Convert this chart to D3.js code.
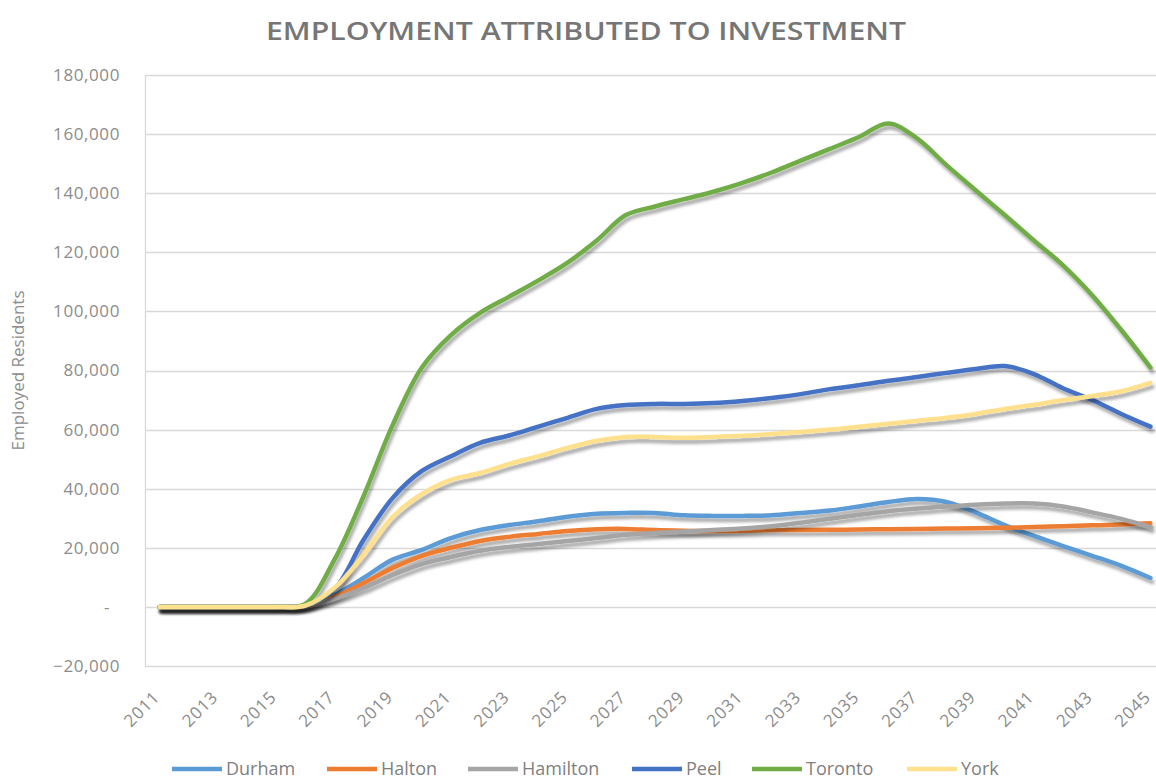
<!DOCTYPE html>
<meta charset="utf-8">
<style>
  body { margin: 0; background: #fff; }
  text { font-family: "Open Sans", sans-serif; }
</style>
<script src="https://d3js.org/d3.v7.min.js"></script>
<div id="chart"></div>
<script>
  // years on the category axis
  var years = d3.range(2011, 2046)
  var yTicks = [-20000, 0, 20000, 40000, 60000, 80000, 100000, 120000, 140000, 160000, 180000]

  // values, 2011 .. 2045
  var durham = [0, 0, 0, 0, 0, 300, 4000, 9800, 16000, 19300, 23300, 26000, 27700, 29000, 30500, 31500, 31800, 31800, 31000, 30800, 30800, 31000, 31800, 32600, 34000, 35500, 36500, 35500, 32000, 27700, 24000, 20600, 17300, 13900, 9800]
  var halton = [0, 0, 0, 0, 0, 200, 3400, 8100, 13200, 17300, 20000, 22300, 23700, 24700, 25700, 26300, 26400, 26000, 25800, 25700, 25800, 26000, 26000, 26100, 26200, 26300, 26400, 26500, 26600, 26800, 27000, 27300, 27600, 27900, 28300]
  var hamilton = [0, 0, 0, 0, 0, 200, 2700, 6400, 10800, 14500, 16900, 19000, 20300, 21300, 22300, 23300, 24400, 25000, 25500, 26000, 26500, 27300, 28500, 29800, 31200, 32400, 33300, 34000, 34600, 35000, 35000, 34000, 32000, 29800, 27000]
  var peel = [0, 0, 0, 0, 0, 500, 6000, 22700, 36900, 46000, 51000, 55500, 58000, 61000, 64000, 67000, 68300, 68700, 68700, 69000, 69700, 70700, 72000, 73700, 75000, 76500, 77800, 79200, 80500, 81500, 78800, 74000, 70000, 65300, 61000]
  var toronto = [0, 0, 0, 0, 0, 1000, 16000, 37500, 61600, 81000, 92000, 99500, 105000, 110500, 116500, 124000, 132600, 135500, 138000, 140500, 143500, 147000, 151000, 155000, 159000, 163600, 158500, 149500, 141000, 132600, 124000, 115600, 105500, 93700, 81000]
  var york = [0, 0, 0, 0, 0, 400, 6400, 17600, 30500, 38200, 43000, 45300, 48400, 51000, 53800, 56200, 57500, 57500, 57200, 57500, 57900, 58500, 59200, 60000, 61000, 62000, 63000, 64000, 65300, 67000, 68400, 70000, 71400, 73000, 75800]

  var seriesNames = ["Durham", "Halton", "Hamilton", "Peel", "Toronto", "York"]
  var seriesValues = [durham, halton, hamilton, peel, toronto, york]
  var seriesColors = ["#5B9BD5", "#ED7D31", "#A5A5A5", "#4472C4", "#70AD47", "#FFE08C"]

  var W = 1156, H = 779
  var plotLeft = 145, plotRight = 1165, plotTop = 75, plotBottom = 666

  var svg = d3.select("#chart").append("svg")
    .attr("width", W)
    .attr("height", H)

  // soft shadow like the office chart effect
  var filter = svg.append("defs").append("filter")
    .attr("id", "shadow")
    .attr("x", "-5%").attr("y", "-20%")
    .attr("width", "110%").attr("height", "140%")
  filter.append("feDropShadow")
    .attr("dx", 2).attr("dy", 4)
    .attr("stdDeviation", 1.8)
    .attr("flood-color", "#000")
    .attr("flood-opacity", 0.32)

  var x = d3.scalePoint()
    .domain(years)
    .range([plotLeft, plotRight])
    .padding(0.5)

  var y = d3.scaleLinear()
    .domain([-20000, 180000])
    .range([plotBottom, plotTop])

  // gridlines
  svg.append("g")
    .selectAll("line")
    .data(yTicks)
    .enter()
    .append("line")
    .attr("x1", plotLeft)
    .attr("x2", W)
    .attr("y1", function (d) { return Math.round(y(d)) + 0.5 })
    .attr("y2", function (d) { return Math.round(y(d)) + 0.5 })
    .attr("stroke", "#d9d9d9")
    .attr("stroke-width", 1.3)

  svg.append("line")
    .attr("x1", plotLeft + 0.5).attr("x2", plotLeft + 0.5)
    .attr("y1", plotTop).attr("y2", plotBottom)
    .attr("stroke", "#d9d9d9")
    .attr("stroke-width", 1.3)

  // y axis labels
  var fmt = d3.format(",")
  svg.append("g")
    .selectAll("text")
    .data(yTicks)
    .enter()
    .append("text")
    .attr("x", function (d) { return d === 0 ? 110 : 120 })
    .attr("y", function (d) { return y(d) })
    .attr("dy", "0.35em")
    .attr("text-anchor", "end")
    .style("font-size", "17px")
    .style("letter-spacing", "0.6px")
    .style("fill", "#8c8c8c")
    .text(function (d) { return d === 0 ? "-" : fmt(d) })

  // x axis labels, every other year
  svg.append("g")
    .selectAll("text")
    .data(years.filter(function (d) { return (d - 2011) % 2 === 0 }))
    .enter()
    .append("text")
    .attr("transform", function (d) { return "translate(" + (x(d) - 3) + ",694) rotate(-45)" })
    .attr("text-anchor", "end")
    .attr("dy", "0.35em")
    .style("font-size", "17px")
    .style("letter-spacing", "0.8px")
    .style("fill", "#8c8c8c")
    .text(function (d) { return d })

  // y axis title
  svg.append("text")
    .attr("transform", "translate(24," + y(80000) + ") rotate(-90)")
    .attr("text-anchor", "middle")
    .style("font-size", "17px")
    .style("fill", "#8c8c8c")
    .text("Employed Residents")

  // chart title
  svg.append("text")
    .attr("x", 586)
    .attr("y", 40)
    .attr("text-anchor", "middle")
    .style("font-size", "25px")
    .style("font-weight", 600)
    .style("fill", "#767676")
    .attr("textLength", 640)
    .attr("lengthAdjust", "spacingAndGlyphs")
    .text("EMPLOYMENT  ATTRIBUTED TO INVESTMENT")

  // lines
  var line = d3.line()
    .x(function (d, i) { return x(years[i]) })
    .y(function (d) { return y(d) })
    .curve(d3.curveCatmullRom.alpha(0.5))

  svg.append("g")
    .selectAll("path")
    .data(seriesValues)
    .enter()
    .append("path")
    .attr("d", function (d) { return line(d) })
    .attr("fill", "none")
    .attr("stroke", function (d, i) { return seriesColors[i] })
    .attr("stroke-width", 4.5)
    .attr("stroke-linecap", "round")
    .attr("stroke-linejoin", "round")
    .attr("filter", "url(#shadow)")

  // legend
  var legendX = [172, 327, 468, 632, 752, 907]
  var legend = svg.append("g")
    .selectAll("g")
    .data(seriesNames)
    .enter()
    .append("g")
    .attr("transform", function (d, i) { return "translate(" + legendX[i] + ",769)" })

  legend.append("line")
    .attr("x1", 0).attr("x2", 50)
    .attr("stroke", function (d, i) { return seriesColors[i] })
    .attr("stroke-width", 4.5)

  legend.append("text")
    .attr("x", 54)
    .attr("dy", "0.35em")
    .style("font-size", "18px")
    .style("fill", "#7f7f7f")
    .text(function (d) { return d })
</script>
